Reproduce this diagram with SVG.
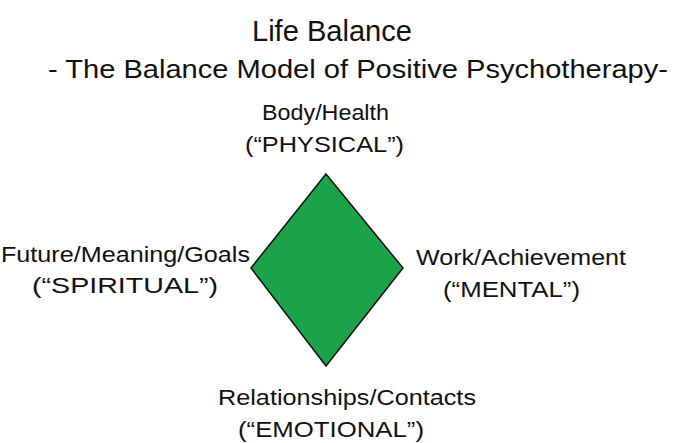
<svg xmlns="http://www.w3.org/2000/svg" width="685" height="443" viewBox="0 0 685 443">
<style>text{font-family:"Liberation Sans",Arial,sans-serif;fill:#111}.l{font-size:22px}</style>
<rect width="685" height="443" fill="#fff"/>
<text x="252" y="41" font-size="30" textLength="160" lengthAdjust="spacingAndGlyphs">Life Balance</text>
<text x="48" y="78" font-size="25" textLength="620" lengthAdjust="spacingAndGlyphs">- The Balance Model of Positive Psychotherapy-</text>
<g id="diamond"><polygon points="326,174 403,268 326,366 251,268" fill="#1ba34a" stroke="#111" stroke-width="1.5"/></g>
<g id="physical"><text class="l" x="262" y="120" textLength="127" lengthAdjust="spacingAndGlyphs">Body/Health</text><text class="l" x="245" y="152" textLength="159" lengthAdjust="spacingAndGlyphs">(“PHYSICAL”)</text></g>
<g id="spiritual"><text class="l" x="1" y="262" textLength="249" lengthAdjust="spacingAndGlyphs">Future/Meaning/Goals</text><text class="l" x="32" y="293" textLength="186" lengthAdjust="spacingAndGlyphs">(“SPIRITUAL”)</text></g>
<g id="mental"><text class="l" x="416" y="265" textLength="210" lengthAdjust="spacingAndGlyphs">Work/Achievement</text><text class="l" x="443" y="297" textLength="137" lengthAdjust="spacingAndGlyphs">(“MENTAL”)</text></g>
<g id="emotional"><text class="l" x="218" y="405" textLength="258" lengthAdjust="spacingAndGlyphs">Relationships/Contacts</text><text class="l" x="238" y="437" textLength="186" lengthAdjust="spacingAndGlyphs">(“EMOTIONAL”)</text></g>
<g id="connectors"></g>
</svg>
